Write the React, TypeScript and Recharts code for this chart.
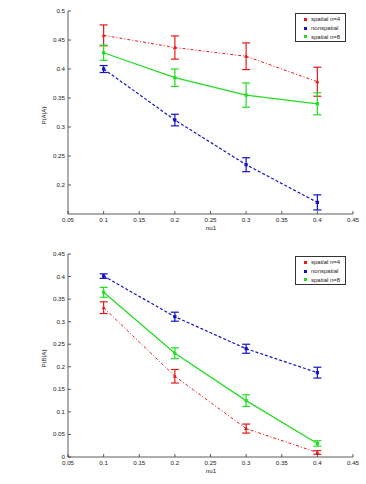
import React from "react";
import { LineChart, Line, XAxis, YAxis, ErrorBar } from "recharts";

// nu1 sample points
const NU1 = [0.1, 0.2, 0.3, 0.4];
const X_TICKS = [0.05, 0.1, 0.15, 0.2, 0.25, 0.3, 0.35, 0.4, 0.45];

// P(A|A)
const AA_SPATIAL4 = [0.458, 0.437, 0.422, 0.378];
const AA_SPATIAL4_ERR = [0.018, 0.02, 0.023, 0.025];
const AA_NONSPATIAL = [0.4, 0.312, 0.235, 0.17];
const AA_NONSPATIAL_ERR = [0.006, 0.01, 0.012, 0.013];
const AA_SPATIAL8 = [0.428, 0.385, 0.355, 0.34];
const AA_SPATIAL8_ERR = [0.013, 0.015, 0.021, 0.019];
const AA_TICKS = [0.2, 0.25, 0.3, 0.35, 0.4, 0.45, 0.5];

// P(B|A)
const BA_SPATIAL4 = [0.331, 0.179, 0.063, 0.01];
const BA_SPATIAL4_ERR = [0.013, 0.015, 0.01, 0.004];
const BA_NONSPATIAL = [0.401, 0.311, 0.24, 0.187];
const BA_NONSPATIAL_ERR = [0.005, 0.01, 0.01, 0.012];
const BA_SPATIAL8 = [0.365, 0.23, 0.125, 0.03];
const BA_SPATIAL8_ERR = [0.011, 0.012, 0.013, 0.006];
const BA_TICKS = [0, 0.05, 0.1, 0.15, 0.2, 0.25, 0.3, 0.35, 0.4, 0.45];

const SERIES_NAMES = ["spatial n=4", "nonspatial", "spatial n=8"];

const RED = "#e8191c";
const BLUE = "#1212c8";
const GREEN = "#22dd22";
const AXIS = "#333";
const FONT = "'Liberation Sans', Arial, sans-serif";

const W = 366;
const H = 242;
const LEFT = 68;
const RIGHT_M = 13;

const fmt = (v: number) => String(Number(v.toFixed(2)));

function buildRows(s4: number[], s4e: number[], ns: number[], nse: number[], s8: number[], s8e: number[]) {
  return NU1.map((x, i) => ({
    x,
    s4: s4[i], s4e: s4e[i],
    ns: ns[i], nse: nse[i],
    s8: s8[i], s8e: s8e[i],
  }));
}

const triangle = (color: string) => (p: any) => {
  const { cx, cy, index } = p;
  return (
    <path key={`t-${index}`} d={`M${cx},${cy - 2.2}L${cx + 2},${cy + 1.4}L${cx - 2},${cy + 1.4}Z`} fill={color} />
  );
};

const square = (color: string) => (p: any) => {
  const { cx, cy, index } = p;
  return <rect key={`s-${index}`} x={cx - 1.6} y={cy - 1.6} width={3.2} height={3.2} fill={color} />;
};

function Panel({ data, ticks, domain, yLabel, top, xAxisH }: {
  data: any[]; ticks: number[]; domain: [number, number]; yLabel: string; top: number; xAxisH: number;
}) {
  const bottom = H - xAxisH;

  const yTick = (p: any) => (
    <g>
      <line x1={LEFT} x2={LEFT + 3} y1={p.y} y2={p.y} stroke={AXIS} strokeWidth={0.8} />
      <text x={LEFT - 3} y={p.y} dy={2} textAnchor="end" fontSize={6.2} fill="#222" fontFamily={FONT}>
        {fmt(p.payload.value)}
      </text>
    </g>
  );

  const xTick = (p: any) => (
    <g>
      <line x1={p.x} x2={p.x} y1={bottom} y2={bottom - 3} stroke={AXIS} strokeWidth={0.8} />
      <text x={p.x} y={bottom + 8} textAnchor="middle" fontSize={6.2} fill="#222" fontFamily={FONT}>
        {fmt(p.payload.value)}
      </text>
    </g>
  );

  return (
    <LineChart width={W} height={H} data={data} margin={{ top, right: RIGHT_M, left: 0, bottom: 0 }}>
      <XAxis
        dataKey="x"
        type="number"
        domain={[0.05, 0.45]}
        ticks={X_TICKS}
        interval={0}
        height={xAxisH}
        tickLine={false}
        tick={xTick}
        axisLine={{ stroke: AXIS, strokeWidth: 0.8 }}
        label={{
          content: () => (
            <text x={211} y={bottom + 16} textAnchor="middle" fontSize={6.2} fill="#222" fontFamily={FONT}>nu1</text>
          ),
        }}
      />
      <YAxis
        type="number"
        domain={domain}
        ticks={ticks}
        interval={0}
        width={LEFT}
        tickLine={false}
        tick={yTick}
        axisLine={{ stroke: AXIS, strokeWidth: 0.8 }}
        allowDataOverflow
        label={{
          content: () => {
            const cy = top + (bottom - top) / 2 + 3;
            return (
              <text x={44} y={cy} transform={`rotate(-90 44 ${cy})`} textAnchor="middle" dominantBaseline="middle" fontSize={6.2} fill="#222" fontFamily={FONT}>
                {yLabel}
              </text>
            );
          },
        }}
      />
      <Line dataKey="s4" stroke={RED} strokeWidth={1} strokeDasharray="3 2 1 2" dot={triangle(RED)} isAnimationActive={false}>
        <ErrorBar dataKey="s4e" direction="y" width={4} stroke={RED} strokeWidth={1.2} />
      </Line>
      <Line dataKey="ns" stroke={BLUE} strokeWidth={1.2} strokeDasharray="3 2" dot={square(BLUE)} isAnimationActive={false}>
        <ErrorBar dataKey="nse" direction="y" width={4} stroke={BLUE} strokeWidth={1.2} />
      </Line>
      <Line dataKey="s8" stroke={GREEN} strokeWidth={1.3} dot={square(GREEN)} isAnimationActive={false}>
        <ErrorBar dataKey="s8e" direction="y" width={4} stroke={GREEN} strokeWidth={1.2} />
      </Line>
    </LineChart>
  );
}

function LegendBox({ top }: { top: number }) {
  const colors = [RED, BLUE, GREEN];
  return (
    <div
      style={{
        position: "absolute", left: 295, top, width: 51, height: 29,
        border: `1px solid ${AXIS}`, background: "#fff", boxSizing: "border-box",
        fontFamily: FONT, fontSize: 6, lineHeight: "8.8px", color: "#222", paddingTop: 1,
        whiteSpace: "nowrap", overflow: "visible",
      }}
    >
      {SERIES_NAMES.map((name, i) => (
        <div key={name} style={{ display: "flex", alignItems: "center", height: 8.8 }}>
          <span style={{ width: 3, height: 3, background: colors[i], marginLeft: 8, marginRight: 4, flex: "none" }} />
          <span>{name}</span>
        </div>
      ))}
    </div>
  );
}

export default function App() {
  const aa = buildRows(AA_SPATIAL4, AA_SPATIAL4_ERR, AA_NONSPATIAL, AA_NONSPATIAL_ERR, AA_SPATIAL8, AA_SPATIAL8_ERR);
  const ba = buildRows(BA_SPATIAL4, BA_SPATIAL4_ERR, BA_NONSPATIAL, BA_NONSPATIAL_ERR, BA_SPATIAL8, BA_SPATIAL8_ERR);
  return (
    <div style={{ position: "absolute", left: 0, top: 0, width: 366, height: 484, background: "#fff" }}>
      <div style={{ position: "absolute", left: 0, top: 0 }}>
        <Panel data={aa} ticks={AA_TICKS} domain={[0.15, 0.5]} yLabel="P(A|A)" top={11} xAxisH={28} />
      </div>
      <LegendBox top={13} />
      <div style={{ position: "absolute", left: 0, top: 242 }}>
        <Panel data={ba} ticks={BA_TICKS} domain={[0, 0.45]} yLabel="P(B|A)" top={12} xAxisH={27} />
      </div>
      <LegendBox top={256} />
    </div>
  );
}
